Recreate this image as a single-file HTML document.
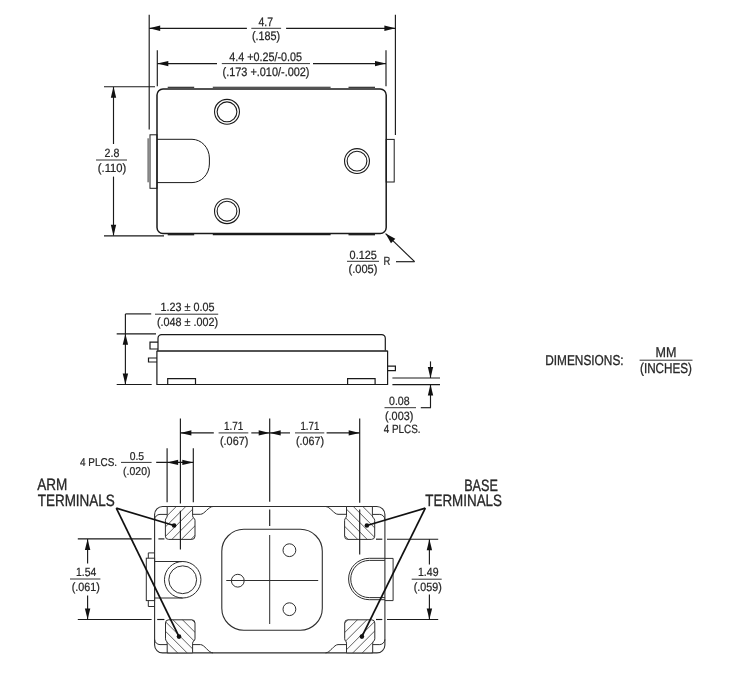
<!DOCTYPE html>
<html lang="en">
<head>
<meta charset="utf-8">
<title>Package Dimensions</title>
<style>
html,body{margin:0;padding:0;background:#fff;}
body{width:731px;height:679px;overflow:hidden;}
svg{display:block;will-change:transform;}
svg text{text-rendering:geometricPrecision;font-family:'Liberation Sans', 'DejaVu Sans', sans-serif;}
</style>
</head>
<body>
<svg width="731" height="679" viewBox="0 0 731 679">
<rect width="731" height="679" fill="#fff"/>

<g id="top-view" fill="none">
<line x1="149.2" y1="14.8" x2="149.2" y2="129.5" stroke="#1a1a1a" stroke-width="1.15" />
<line x1="395.4" y1="14.8" x2="395.4" y2="135" stroke="#1a1a1a" stroke-width="1.15" />
<line x1="157.3" y1="50.3" x2="157.3" y2="86.3" stroke="#1a1a1a" stroke-width="1.15" />
<line x1="386" y1="50.3" x2="386" y2="86.3" stroke="#1a1a1a" stroke-width="1.15" />
<line x1="149.2" y1="28.3" x2="246.9" y2="28.3" stroke="#1a1a1a" stroke-width="1.15" />
<line x1="286.1" y1="28.3" x2="395.4" y2="28.3" stroke="#1a1a1a" stroke-width="1.15" />
<polygon points="149.20,28.30 160.20,25.60 160.20,31.00" fill="#111"/>
<polygon points="395.40,28.30 384.40,31.00 384.40,25.60" fill="#111"/>
<line x1="157.3" y1="63.6" x2="217" y2="63.6" stroke="#1a1a1a" stroke-width="1.15" />
<line x1="313" y1="63.6" x2="386" y2="63.6" stroke="#1a1a1a" stroke-width="1.15" />
<polygon points="157.30,63.60 168.30,60.90 168.30,66.30" fill="#111"/>
<polygon points="386.00,63.60 375.00,66.30 375.00,60.90" fill="#111"/>
<line x1="104" y1="86.7" x2="155" y2="86.7" stroke="#1a1a1a" stroke-width="1.15" />
<line x1="104" y1="235.8" x2="164" y2="235.8" stroke="#1a1a1a" stroke-width="1.15" />
<line x1="113.5" y1="87" x2="113.5" y2="144" stroke="#1a1a1a" stroke-width="1.15" />
<line x1="113.5" y1="176.6" x2="113.5" y2="235.5" stroke="#1a1a1a" stroke-width="1.15" />
<polygon points="113.50,86.70 116.20,97.70 110.80,97.70" fill="#111"/>
<polygon points="113.50,235.80 110.80,224.80 116.20,224.80" fill="#111"/>
<rect x="157" y="88.9" width="229.2" height="144.7" rx="6" ry="6" stroke="#1a1a1a" stroke-width="1.5" fill="#fff"/>
<line x1="167.7" y1="87.3" x2="194.2" y2="87.3" stroke="#1a1a1a" stroke-width="1.1" />
<line x1="167.7" y1="234.7" x2="194.2" y2="234.7" stroke="#1a1a1a" stroke-width="1.3" />
<line x1="212.8" y1="87.3" x2="330.6" y2="87.3" stroke="#1a1a1a" stroke-width="1.1" />
<line x1="212.8" y1="234.7" x2="330.6" y2="234.7" stroke="#1a1a1a" stroke-width="1.3" />
<line x1="348.5" y1="87.3" x2="375" y2="87.3" stroke="#1a1a1a" stroke-width="1.1" />
<line x1="348.5" y1="234.7" x2="375" y2="234.7" stroke="#1a1a1a" stroke-width="1.3" />
<rect x="150" y="134.8" width="7" height="53.5" stroke="#1a1a1a" stroke-width="1" />
<line x1="148.1" y1="138.3" x2="148.1" y2="182.3" stroke="#333" stroke-width="1" />
<rect x="386.2" y="139.4" width="8" height="42.6" stroke="#1a1a1a" stroke-width="1" />
<path d="M157 139.3 H192 A17.5 19 0 0 1 209.4 158 V164 A17.5 19 0 0 1 192 182.6 H157" stroke="#1a1a1a" stroke-width="1"/>
<circle cx="227" cy="111.8" r="12.45" stroke="#1a1a1a" stroke-width="1.1"/>
<circle cx="227" cy="111.8" r="9.9" stroke="#1a1a1a" stroke-width="1.1"/>
<circle cx="227" cy="211.2" r="12.45" stroke="#1a1a1a" stroke-width="1.1"/>
<circle cx="227" cy="211.2" r="9.9" stroke="#1a1a1a" stroke-width="1.1"/>
<circle cx="357" cy="161.1" r="12.45" stroke="#1a1a1a" stroke-width="1.1"/>
<circle cx="357" cy="161.1" r="9.9" stroke="#1a1a1a" stroke-width="1.1"/>
<line x1="385.6" y1="233.6" x2="414.6" y2="261.7" stroke="#1a1a1a" stroke-width="1.15" />
<line x1="414.6" y1="261.7" x2="396" y2="261.7" stroke="#1a1a1a" stroke-width="1.15" />
<polygon points="385.60,233.60 395.30,238.68 390.98,243.13" fill="#111"/>
</g>
<g id="top-text">
<text x="258.5" y="25.6" font-size="12.3" textLength="14.5" lengthAdjust="spacingAndGlyphs" fill="#272727" stroke="#272727" stroke-width="0.25" letter-spacing="0">4.7</text>
<line x1="251.3" y1="28.3" x2="281.1" y2="28.3" stroke="#333" stroke-width="1" />
<text x="252" y="40.4" font-size="12.3" textLength="28.2" lengthAdjust="spacingAndGlyphs" fill="#272727" stroke="#272727" stroke-width="0.25" letter-spacing="0">(.185)</text>
<text x="229.3" y="60.9" font-size="12.3" textLength="72.7" lengthAdjust="spacingAndGlyphs" fill="#272727" stroke="#272727" stroke-width="0.25" letter-spacing="0">4.4 +0.25/-0.05</text>
<line x1="221.8" y1="63.6" x2="310" y2="63.6" stroke="#333" stroke-width="1" />
<text x="222.5" y="75.7" font-size="12.3" textLength="87.0" lengthAdjust="spacingAndGlyphs" fill="#272727" stroke="#272727" stroke-width="0.25" letter-spacing="0">(.173 +.010/-.002)</text>
<text x="104.5" y="157.3" font-size="12" textLength="14.8" lengthAdjust="spacingAndGlyphs" fill="#272727" stroke="#272727" stroke-width="0.24" letter-spacing="0">2.8</text>
<line x1="96" y1="160" x2="127" y2="160" stroke="#333" stroke-width="1" />
<text x="97.8" y="172.1" font-size="12" textLength="28.5" lengthAdjust="spacingAndGlyphs" fill="#272727" stroke="#272727" stroke-width="0.24" letter-spacing="0">(.110)</text>
<text x="349.6" y="258.6" font-size="12" textLength="27.2" lengthAdjust="spacingAndGlyphs" fill="#272727" stroke="#272727" stroke-width="0.24" letter-spacing="0">0.125</text>
<line x1="347" y1="261.3" x2="379" y2="261.3" stroke="#333" stroke-width="1" />
<text x="348.5" y="273.40000000000003" font-size="12" textLength="29.0" lengthAdjust="spacingAndGlyphs" fill="#272727" stroke="#272727" stroke-width="0.24" letter-spacing="0">(.005)</text>
<text x="383.5" y="265.2" font-size="12" textLength="6.8" lengthAdjust="spacingAndGlyphs" fill="#272727" stroke="#272727" stroke-width="0.24" letter-spacing="0">R</text>
</g>
<g id="side-view" fill="none">
<path d="M158 350.6 V338.2 A3.6 3.6 0 0 1 161.6 334.6 H381.7 A3.6 3.6 0 0 1 385.3 338.2 V350.6" stroke="#1a1a1a" stroke-width="1.2"/>
<line x1="156.9" y1="351" x2="387.6" y2="351" stroke="#1a1a1a" stroke-width="1.6" />
<path d="M156.9 350.7 V384.5 H387.6 V350.7" stroke="#1a1a1a" stroke-width="1.2"/>
<path d="M158 342.2 H150 V349 H158" stroke="#1a1a1a" stroke-width="1.2"/>
<path d="M156.9 358 H148.5 V362 H156.9" stroke="#1a1a1a" stroke-width="1.2"/>
<path d="M387.6 366.2 H395.4 V370.7 H387.6" stroke="#1a1a1a" stroke-width="1.2"/>
<path d="M167.7 384.5 V378.6 H195.5 V384.5" stroke="#1a1a1a" stroke-width="1.2"/>
<path d="M347.6 384.5 V378.6 H375.1 V384.5" stroke="#1a1a1a" stroke-width="1.2"/>
<line x1="116.7" y1="333.8" x2="156" y2="333.8" stroke="#1a1a1a" stroke-width="1.15" />
<line x1="116.7" y1="384.5" x2="151.7" y2="384.5" stroke="#1a1a1a" stroke-width="1.15" />
<line x1="125.4" y1="313.9" x2="125.4" y2="384.5" stroke="#1a1a1a" stroke-width="1.15" />
<line x1="125.4" y1="313.9" x2="151.2" y2="313.9" stroke="#1a1a1a" stroke-width="1.15" />
<polygon points="125.40,333.80 128.10,344.80 122.70,344.80" fill="#111"/>
<polygon points="125.40,384.50 122.70,373.50 128.10,373.50" fill="#111"/>
<line x1="392.4" y1="378" x2="440" y2="378" stroke="#1a1a1a" stroke-width="1.15" />
<line x1="392.4" y1="384.6" x2="440" y2="384.6" stroke="#1a1a1a" stroke-width="1.15" />
<line x1="430.5" y1="361.4" x2="430.5" y2="378" stroke="#1a1a1a" stroke-width="1.15" />
<line x1="430.5" y1="384.6" x2="430.5" y2="407.7" stroke="#1a1a1a" stroke-width="1.15" />
<line x1="420.8" y1="407.7" x2="431" y2="407.7" stroke="#1a1a1a" stroke-width="1.15" />
<polygon points="430.50,378.00 427.80,367.00 433.20,367.00" fill="#111"/>
<polygon points="430.50,384.60 433.20,395.60 427.80,395.60" fill="#111"/>
</g>
<g id="side-text">
<text x="160.5" y="311.2" font-size="12" textLength="54.0" lengthAdjust="spacingAndGlyphs" fill="#272727" stroke="#272727" stroke-width="0.24" letter-spacing="0">1.23 ± 0.05</text>
<line x1="155" y1="314.2" x2="218.2" y2="314.2" stroke="#333" stroke-width="1" />
<text x="157" y="326.0" font-size="12" textLength="61" lengthAdjust="spacingAndGlyphs" fill="#272727" stroke="#272727" stroke-width="0.24" letter-spacing="0">(.048 ± .002)</text>
<text x="389" y="404.7" font-size="12" textLength="20.6" lengthAdjust="spacingAndGlyphs" fill="#272727" stroke="#272727" stroke-width="0.24" letter-spacing="0">0.08</text>
<line x1="384.5" y1="407.7" x2="416" y2="407.7" stroke="#333" stroke-width="1" />
<text x="385" y="419.9" font-size="12" textLength="28.3" lengthAdjust="spacingAndGlyphs" fill="#272727" stroke="#272727" stroke-width="0.24" letter-spacing="0">(.003)</text>
<text x="383.8" y="432.5" font-size="12" textLength="36.8" lengthAdjust="spacingAndGlyphs" fill="#272727" stroke="#272727" stroke-width="0.24" letter-spacing="0">4 PLCS.</text>
</g>
<g id="bottom-view" fill="none">
<rect x="154.6" y="506.5" width="230.3" height="146.4" rx="8" ry="8" stroke="#2e2e2e" stroke-width="1.1" fill="#fff"/>
<path d="M154.6 519.6 A5.4 5.4 0 0 1 160 514.4 H167.2" stroke="#2e2e2e" stroke-width="1"/>
<path d="M384.9 519.6 A5.4 5.4 0 0 0 379.8 514.4 H372.6" stroke="#2e2e2e" stroke-width="1"/>
<path d="M154.6 639.4 A5.4 5.4 0 0 0 160 644.6 H167.2" stroke="#2e2e2e" stroke-width="1"/>
<path d="M384.9 639.4 A5.4 5.4 0 0 1 379.8 644.6 H372.6" stroke="#2e2e2e" stroke-width="1"/>
<path d="M192.6 514.3 H200.5 C204.5 514.3 208.5 506.5 213 506.5" stroke="#2e2e2e" stroke-width="1"/>
<path d="M346.9 514.3 H338 C334 514.3 330 506.5 325.5 506.5" stroke="#2e2e2e" stroke-width="1"/>
<path d="M192.6 644.6 H200.5 C204.5 644.6 208.5 652.9 213 652.9" stroke="#2e2e2e" stroke-width="1"/>
<path d="M346.9 644.6 H338 C334 644.6 330 652.9 325.5 652.9" stroke="#2e2e2e" stroke-width="1"/>
<clipPath id="pc1"><path d="M167.2 506.5 V515.8 C167.2 518.0 165.4 518.1999999999999 165.4 520.4 V536.1999999999999 A3.2 3.2 0 0 0 168.6 539.4 H191.8 A3.2 3.2 0 0 0 195 536.1999999999999 V520.4 C195 518.1999999999999 192.6 518.0 192.6 515.8 V506.5 Z"/></clipPath>
<path d="M167.2 506.5 V515.8 C167.2 518.0 165.4 518.1999999999999 165.4 520.4 V536.1999999999999 A3.2 3.2 0 0 0 168.6 539.4 H191.8 A3.2 3.2 0 0 0 195 536.1999999999999 V520.4 C195 518.1999999999999 192.6 518.0 192.6 515.8 V506.5 Z" fill="#fdfdfd" stroke="none"/>
<path d="M167.80 505.50 L132.90 540.40 M177.30 505.50 L142.40 540.40 M186.80 505.50 L151.90 540.40 M196.30 505.50 L161.40 540.40 M205.80 505.50 L170.90 540.40 M215.30 505.50 L180.40 540.40 M224.80 505.50 L189.90 540.40" stroke="#4d4d4d" stroke-width="0.9" clip-path="url(#pc1)"/>
<path d="M167.2 506.5 V515.8 C167.2 518.0 165.4 518.1999999999999 165.4 520.4 V536.1999999999999 A3.2 3.2 0 0 0 168.6 539.4 H191.8 A3.2 3.2 0 0 0 195 536.1999999999999 V520.4 C195 518.1999999999999 192.6 518.0 192.6 515.8 V506.5 Z" fill="none" stroke="#2e2e2e" stroke-width="1"/>
<clipPath id="pc2"><path d="M346.5 506.5 V515.8 C346.5 518.0 344.6 518.1999999999999 344.6 520.4 V536.1999999999999 A3.2 3.2 0 0 0 347.8 539.4 H371.5 A3.2 3.2 0 0 0 374.7 536.1999999999999 V520.4 C374.7 518.1999999999999 372.4 518.0 372.4 515.8 V506.5 Z"/></clipPath>
<path d="M346.5 506.5 V515.8 C346.5 518.0 344.6 518.1999999999999 344.6 520.4 V536.1999999999999 A3.2 3.2 0 0 0 347.8 539.4 H371.5 A3.2 3.2 0 0 0 374.7 536.1999999999999 V520.4 C374.7 518.1999999999999 372.4 518.0 372.4 515.8 V506.5 Z" fill="#fdfdfd" stroke="none"/>
<path d="M314.30 505.50 L349.20 540.40 M323.80 505.50 L358.70 540.40 M333.30 505.50 L368.20 540.40 M342.80 505.50 L377.70 540.40 M352.30 505.50 L387.20 540.40 M361.80 505.50 L396.70 540.40 M371.30 505.50 L406.20 540.40" stroke="#4d4d4d" stroke-width="0.9" clip-path="url(#pc2)"/>
<path d="M346.5 506.5 V515.8 C346.5 518.0 344.6 518.1999999999999 344.6 520.4 V536.1999999999999 A3.2 3.2 0 0 0 347.8 539.4 H371.5 A3.2 3.2 0 0 0 374.7 536.1999999999999 V520.4 C374.7 518.1999999999999 372.4 518.0 372.4 515.8 V506.5 Z" fill="none" stroke="#2e2e2e" stroke-width="1"/>
<clipPath id="pc3"><path d="M167.2 652.9 V643.2 C167.2 641.0 165.5 641.0 165.5 638.8 V623.0 A3.2 3.2 0 0 1 168.7 619.8 H191.8 A3.2 3.2 0 0 1 195 623.0 V638.8 C195 641.0 192.6 641.0 192.6 643.2 V652.9 Z"/></clipPath>
<path d="M167.2 652.9 V643.2 C167.2 641.0 165.5 641.0 165.5 638.8 V623.0 A3.2 3.2 0 0 1 168.7 619.8 H191.8 A3.2 3.2 0 0 1 195 623.0 V638.8 C195 641.0 192.6 641.0 192.6 643.2 V652.9 Z" fill="#fdfdfd" stroke="none"/>
<path d="M134.00 618.80 L169.10 653.90 M143.50 618.80 L178.60 653.90 M153.00 618.80 L188.10 653.90 M162.50 618.80 L197.60 653.90 M172.00 618.80 L207.10 653.90 M181.50 618.80 L216.60 653.90 M191.00 618.80 L226.10 653.90" stroke="#4d4d4d" stroke-width="0.9" clip-path="url(#pc3)"/>
<path d="M167.2 652.9 V643.2 C167.2 641.0 165.5 641.0 165.5 638.8 V623.0 A3.2 3.2 0 0 1 168.7 619.8 H191.8 A3.2 3.2 0 0 1 195 623.0 V638.8 C195 641.0 192.6 641.0 192.6 643.2 V652.9 Z" fill="none" stroke="#2e2e2e" stroke-width="1"/>
<clipPath id="pc4"><path d="M346.5 652.9 V643.2 C346.5 641.0 344.7 641.0 344.7 638.8 V623.0 A3.2 3.2 0 0 1 347.9 619.8 H371.6 A3.2 3.2 0 0 1 374.8 623.0 V638.8 C374.8 641.0 372.7 641.0 372.7 643.2 V652.9 Z"/></clipPath>
<path d="M346.5 652.9 V643.2 C346.5 641.0 344.7 641.0 344.7 638.8 V623.0 A3.2 3.2 0 0 1 347.9 619.8 H371.6 A3.2 3.2 0 0 1 374.8 623.0 V638.8 C374.8 641.0 372.7 641.0 372.7 643.2 V652.9 Z" fill="#fdfdfd" stroke="none"/>
<path d="M348.90 618.80 L313.80 653.90 M358.40 618.80 L323.30 653.90 M367.90 618.80 L332.80 653.90 M377.40 618.80 L342.30 653.90 M386.90 618.80 L351.80 653.90 M396.40 618.80 L361.30 653.90 M405.90 618.80 L370.80 653.90" stroke="#4d4d4d" stroke-width="0.9" clip-path="url(#pc4)"/>
<path d="M346.5 652.9 V643.2 C346.5 641.0 344.7 641.0 344.7 638.8 V623.0 A3.2 3.2 0 0 1 347.9 619.8 H371.6 A3.2 3.2 0 0 1 374.8 623.0 V638.8 C374.8 641.0 372.7 641.0 372.7 643.2 V652.9 Z" fill="none" stroke="#2e2e2e" stroke-width="1"/>
<rect x="221.8" y="529.3" width="100.5" height="100.9" rx="22" ry="22" stroke="#2e2e2e" stroke-width="1.1"/>
<line x1="269.7" y1="535" x2="269.7" y2="624" stroke="#2e2e2e" stroke-width="1" />
<line x1="226.5" y1="580.5" x2="318.2" y2="580.5" stroke="#2e2e2e" stroke-width="1" />
<circle cx="289.4" cy="550.2" r="6.4" stroke="#2e2e2e" stroke-width="1" fill="#fff"/>
<circle cx="237.8" cy="580.7" r="6.4" stroke="#2e2e2e" stroke-width="1" fill="#fff"/>
<circle cx="289.4" cy="609.2" r="6.4" stroke="#2e2e2e" stroke-width="1" fill="#fff"/>
<line x1="226.5" y1="580.5" x2="244.2" y2="580.5" stroke="#2e2e2e" stroke-width="1" />
<rect x="146.3" y="558.2" width="8.3" height="42.4" stroke="#2e2e2e" stroke-width="1"/>
<path d="M154.6 552.9 H148.3 V558.2 M154.6 606.5 H148.3 V600.6" stroke="#2e2e2e" stroke-width="1"/>
<path d="M154.6 561.5 H182.7 M154.6 598 H182.7" stroke="#2e2e2e" stroke-width="1"/>
<circle cx="182.7" cy="579.75" r="18.25" stroke="#2e2e2e" stroke-width="1"/>
<circle cx="182.7" cy="579.75" r="13.9" stroke="#2e2e2e" stroke-width="1"/>
<path d="M384.9 558.3 H369.3 A20.7 20.7 0 0 0 369.3 599.7 H384.9" stroke="#2e2e2e" stroke-width="1"/>
<path d="M384.9 560.4 H369.3 A18.6 18.6 0 0 0 369.3 597.6 H384.9" stroke="#2e2e2e" stroke-width="1"/>
<path d="M384.9 558.4 H393.1 V600.6 H384.9" stroke="#2e2e2e" stroke-width="1"/>
<line x1="180.4" y1="418.6" x2="180.4" y2="503.6" stroke="#1a1a1a" stroke-width="1.15" />
<line x1="180.4" y1="510.8" x2="180.4" y2="549.4" stroke="#1a1a1a" stroke-width="1.15" />
<line x1="359.7" y1="418.6" x2="359.7" y2="502.7" stroke="#1a1a1a" stroke-width="1.15" />
<line x1="359.7" y1="509.4" x2="359.7" y2="554.4" stroke="#1a1a1a" stroke-width="1.15" />
<line x1="269.7" y1="418.6" x2="269.7" y2="501.7" stroke="#1a1a1a" stroke-width="1.15" />
<line x1="269.7" y1="509.4" x2="269.7" y2="526" stroke="#1a1a1a" stroke-width="1.15" />
<line x1="167.1" y1="448.2" x2="167.1" y2="502.2" stroke="#1a1a1a" stroke-width="1.15" />
<line x1="193.3" y1="448.2" x2="193.3" y2="502.2" stroke="#1a1a1a" stroke-width="1.15" />
<line x1="180.4" y1="432.9" x2="213.8" y2="432.9" stroke="#1a1a1a" stroke-width="1.15" />
<line x1="251.3" y1="432.9" x2="269.7" y2="432.9" stroke="#1a1a1a" stroke-width="1.15" />
<line x1="269.7" y1="432.9" x2="290" y2="432.9" stroke="#1a1a1a" stroke-width="1.15" />
<line x1="326.6" y1="432.9" x2="359.7" y2="432.9" stroke="#1a1a1a" stroke-width="1.15" />
<polygon points="180.40,432.90 191.40,430.20 191.40,435.60" fill="#111"/>
<polygon points="269.70,432.90 258.70,435.60 258.70,430.20" fill="#111"/>
<polygon points="269.70,432.90 280.70,430.20 280.70,435.60" fill="#111"/>
<polygon points="359.70,432.90 348.70,435.60 348.70,430.20" fill="#111"/>
<line x1="156.2" y1="462.4" x2="193.3" y2="462.4" stroke="#1a1a1a" stroke-width="1.15" />
<polygon points="167.10,462.40 178.10,459.70 178.10,465.10" fill="#111"/>
<polygon points="193.30,462.40 182.30,465.10 182.30,459.70" fill="#111"/>
<line x1="77.8" y1="538.9" x2="151.6" y2="538.9" stroke="#1a1a1a" stroke-width="1.15" />
<line x1="158.4" y1="538.9" x2="164.4" y2="538.9" stroke="#1a1a1a" stroke-width="1.15" />
<line x1="77.8" y1="619.5" x2="151.6" y2="619.5" stroke="#1a1a1a" stroke-width="1.15" />
<line x1="157.2" y1="619.5" x2="164.4" y2="619.5" stroke="#1a1a1a" stroke-width="1.15" />
<line x1="87.6" y1="538.9" x2="87.6" y2="563.5" stroke="#1a1a1a" stroke-width="1.15" />
<line x1="87.6" y1="595.4" x2="87.6" y2="619.5" stroke="#1a1a1a" stroke-width="1.15" />
<polygon points="87.60,538.90 90.30,549.90 84.90,549.90" fill="#111"/>
<polygon points="87.60,619.50 84.90,608.50 90.30,608.50" fill="#111"/>
<line x1="376" y1="539.2" x2="382.3" y2="539.2" stroke="#1a1a1a" stroke-width="1.15" />
<line x1="387" y1="539.2" x2="438.2" y2="539.2" stroke="#1a1a1a" stroke-width="1.15" />
<line x1="376" y1="619.5" x2="382.3" y2="619.5" stroke="#1a1a1a" stroke-width="1.15" />
<line x1="387" y1="619.5" x2="438.2" y2="619.5" stroke="#1a1a1a" stroke-width="1.15" />
<line x1="429.4" y1="539.2" x2="429.4" y2="564.6" stroke="#1a1a1a" stroke-width="1.15" />
<line x1="429.4" y1="594.6" x2="429.4" y2="619.5" stroke="#1a1a1a" stroke-width="1.15" />
<polygon points="429.40,539.20 432.10,550.20 426.70,550.20" fill="#111"/>
<polygon points="429.40,619.50 426.70,608.50 432.10,608.50" fill="#111"/>
<line x1="116.3" y1="508.2" x2="174.1" y2="525.5" stroke="#111" stroke-width="1.75" />
<line x1="116.3" y1="508.2" x2="179" y2="636.6" stroke="#111" stroke-width="1.75" />
<line x1="425.3" y1="508.2" x2="366.9" y2="525.5" stroke="#111" stroke-width="1.75" />
<line x1="425.3" y1="508.2" x2="361.9" y2="636.6" stroke="#111" stroke-width="1.75" />
<circle cx="174.1" cy="525.5" r="2.3" fill="#111"/>
<circle cx="179" cy="636.6" r="2.3" fill="#111"/>
<circle cx="366.9" cy="525.5" r="2.3" fill="#111"/>
<circle cx="361.9" cy="636.6" r="2.3" fill="#111"/>
</g>
<g id="bottom-text">
<text x="224" y="430.2" font-size="12" textLength="19.3" lengthAdjust="spacingAndGlyphs" fill="#272727" stroke="#272727" stroke-width="0.24" letter-spacing="0">1.71</text>
<line x1="218.6" y1="432.9" x2="248.3" y2="432.9" stroke="#333" stroke-width="1" />
<text x="220" y="445.0" font-size="12" textLength="28.3" lengthAdjust="spacingAndGlyphs" fill="#272727" stroke="#272727" stroke-width="0.24" letter-spacing="0">(.067)</text>
<text x="300.5" y="430.2" font-size="12" textLength="18.8" lengthAdjust="spacingAndGlyphs" fill="#272727" stroke="#272727" stroke-width="0.24" letter-spacing="0">1.71</text>
<line x1="295" y1="432.9" x2="324.3" y2="432.9" stroke="#333" stroke-width="1" />
<text x="296" y="445.0" font-size="12" textLength="28" lengthAdjust="spacingAndGlyphs" fill="#272727" stroke="#272727" stroke-width="0.24" letter-spacing="0">(.067)</text>
<text x="80" y="465.6" font-size="11.4" textLength="37.1" lengthAdjust="spacingAndGlyphs" fill="#272727" stroke="#272727" stroke-width="0.23" letter-spacing="0">4 PLCS.</text>
<text x="129.7" y="459.7" font-size="11.4" textLength="14.4" lengthAdjust="spacingAndGlyphs" fill="#272727" stroke="#272727" stroke-width="0.23" letter-spacing="0">0.5</text>
<line x1="121" y1="462.4" x2="151.6" y2="462.4" stroke="#333" stroke-width="1" />
<text x="123.1" y="474.7" font-size="11.4" textLength="27.4" lengthAdjust="spacingAndGlyphs" fill="#272727" stroke="#272727" stroke-width="0.23" letter-spacing="0">(.020)</text>
<text x="76" y="576.3" font-size="12" textLength="20.2" lengthAdjust="spacingAndGlyphs" fill="#272727" stroke="#272727" stroke-width="0.24" letter-spacing="0">1.54</text>
<line x1="70" y1="579" x2="100.4" y2="579" stroke="#333" stroke-width="1" />
<text x="71.7" y="591.1" font-size="12" textLength="28.1" lengthAdjust="spacingAndGlyphs" fill="#272727" stroke="#272727" stroke-width="0.24" letter-spacing="0">(.061)</text>
<text x="418" y="576.2" font-size="12" textLength="20.5" lengthAdjust="spacingAndGlyphs" fill="#272727" stroke="#272727" stroke-width="0.24" letter-spacing="0">1.49</text>
<line x1="411.7" y1="579.2" x2="441.7" y2="579.2" stroke="#333" stroke-width="1" />
<text x="413.8" y="591.2" font-size="12" textLength="27.9" lengthAdjust="spacingAndGlyphs" fill="#272727" stroke="#272727" stroke-width="0.24" letter-spacing="0">(.059)</text>
<text x="37.2" y="490.3" font-size="16.4" textLength="30.1" lengthAdjust="spacingAndGlyphs" fill="#272727" stroke="#272727" stroke-width="0.33" letter-spacing="0">ARM</text>
<text x="37.7" y="505.6" font-size="16.4" textLength="77.1" lengthAdjust="spacingAndGlyphs" fill="#272727" stroke="#272727" stroke-width="0.33" letter-spacing="0">TERMINALS</text>
<text x="464.2" y="490.8" font-size="16.4" textLength="33.6" lengthAdjust="spacingAndGlyphs" fill="#272727" stroke="#272727" stroke-width="0.33" letter-spacing="0">BASE</text>
<text x="425.3" y="505.5" font-size="16.4" textLength="76.7" lengthAdjust="spacingAndGlyphs" fill="#272727" stroke="#272727" stroke-width="0.33" letter-spacing="0">TERMINALS</text>
</g>
<g id="legend">
<text x="545.2" y="364.5" font-size="14.3" textLength="78.4" lengthAdjust="spacingAndGlyphs" fill="#272727" stroke="#272727" stroke-width="0.29" letter-spacing="0">DIMENSIONS:</text>
<text x="655.6" y="356.7" font-size="14.3" textLength="20.9" lengthAdjust="spacingAndGlyphs" fill="#272727" stroke="#272727" stroke-width="0.29" letter-spacing="0">MM</text>
<line x1="639.6" y1="360.2" x2="692.5" y2="360.2" stroke="#333" stroke-width="1" />
<text x="640" y="372.5" font-size="14.3" textLength="52" lengthAdjust="spacingAndGlyphs" fill="#272727" stroke="#272727" stroke-width="0.29" letter-spacing="0">(INCHES)</text>
</g>
</svg>
</body>
</html>
